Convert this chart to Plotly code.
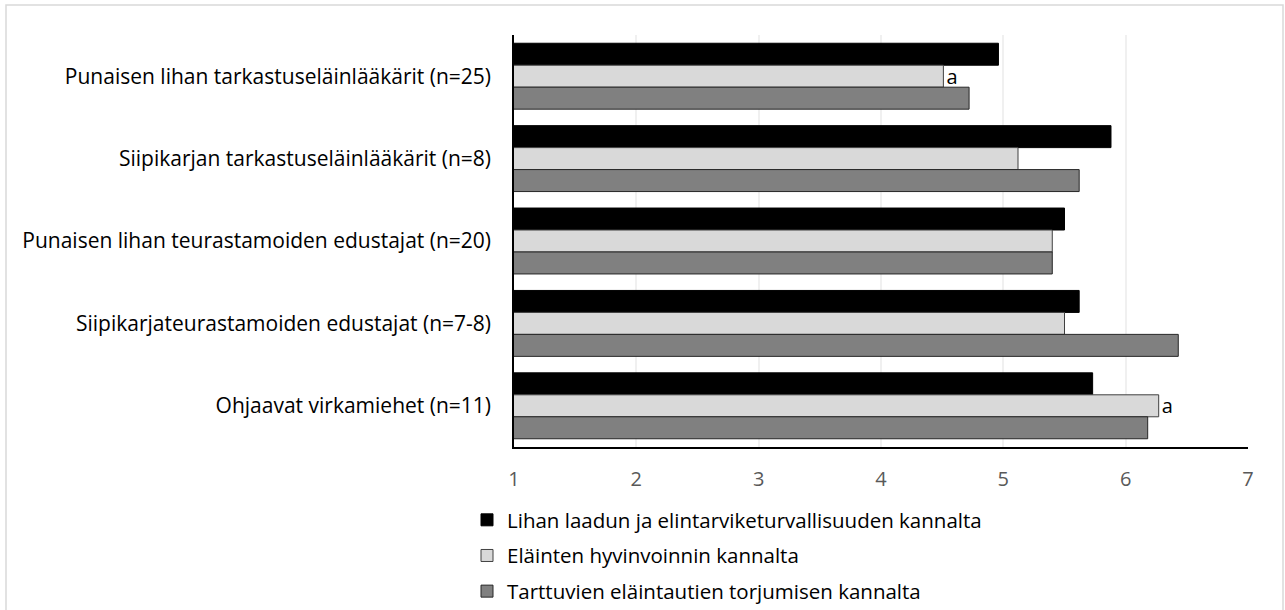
import plotly.graph_objects as go

categories = [
    "Punaisen lihan tarkastuseläinlääkärit (n=25)",
    "Siipikarjan tarkastuseläinlääkärit (n=8)",
    "Punaisen lihan teurastamoiden edustajat (n=20)",
    "Siipikarjateurastamoiden edustajat (n=7-8)",
    "Ohjaavat virkamiehet (n=11)",
]
series_names = [
    "Lihan laadun ja elintarviketurvallisuuden kannalta",
    "Eläinten hyvinvoinnin kannalta",
    "Tarttuvien eläintautien torjumisen kannalta",
]
quality = [4.96, 5.88, 5.50, 5.62, 5.73]
welfare = [4.51, 5.12, 5.40, 5.50, 6.27]
disease = [4.72, 5.62, 5.40, 6.43, 6.18]
welfare_marks = ["a", "", "", "", "a"]
x_ticks = [1, 2, 3, 4, 5, 6, 7]

values = [quality, welfare, disease]
fills = ["#000000", "#D9D9D9", "#808080"]
lines = ["#000000", "#404040", "#262626"]

W, H = 1285, 610
L, R, T, B = 514, 37, 35, 163
pw = W - L - R
ph = H - T - B

FONT = "Open Sans"

fig = go.Figure()
for i, (name, vals) in enumerate(zip(series_names, values)):
    fig.add_trace(go.Bar(
        y=categories, x=vals, base=0, orientation="h", name=name,
        marker=dict(color=fills[i], line=dict(color=lines[i], width=1)),
        legendgroup=f"g{i}",
        text=welfare_marks if i == 1 else None,
        textposition="outside" if i == 1 else None,
        constraintext="none",
        textfont=dict(family=FONT, size=20, color="#000000"),
        cliponaxis=False,
        hoverinfo="x+y",
    ))

fig.update_layout(
    width=W, height=H,
    margin=dict(l=L, r=R, t=T, b=B, autoexpand=False),
    paper_bgcolor="white", plot_bgcolor="white",
    barmode="group", bargap=0.2, bargroupgap=0,
    font=dict(family=FONT, size=20, color="#000000"),
    showlegend=True,
    legend=dict(
        x=(467 - L) / pw, y=(H - 500 - B) / ph, xanchor="left", yanchor="top",
        traceorder="grouped", tracegroupgap=6, itemwidth=30,
        font=dict(family=FONT, size=20.5, color="#000000"),
        bgcolor="rgba(0,0,0,0)",
    ),
)
fig.update_xaxes(
    range=[1, 7], tickvals=x_ticks, showgrid=True, gridcolor="#F0F0F0", gridwidth=1.5,
    zeroline=False, showline=True, linecolor="#000000", linewidth=2,
    tickfont=dict(family=FONT, size=20, color="#595959"),
    ticks="", ticklabelstandoff=13,
)
fig.update_yaxes(
    autorange="reversed", showgrid=False, zeroline=False,
    showline=True, linecolor="#000000", linewidth=1.5,
    tickfont=dict(family=FONT, size=21, color="#000000"),
    ticks="", ticklabelstandoff=17,
)
# outer chart border
fig.add_shape(
    type="rect", xref="paper", yref="paper",
    x0=(6 - L) / pw, x1=(1283 - L) / pw,
    y0=(H - 640 - B) / ph, y1=(H - 5 - B) / ph,
    line=dict(color="#D9D9D9", width=1.5), fillcolor="rgba(0,0,0,0)", layer="below",
)
fig.write_html("out.html", config={"displayModeBar": False},
               post_script="document.body.style.margin='0';")
